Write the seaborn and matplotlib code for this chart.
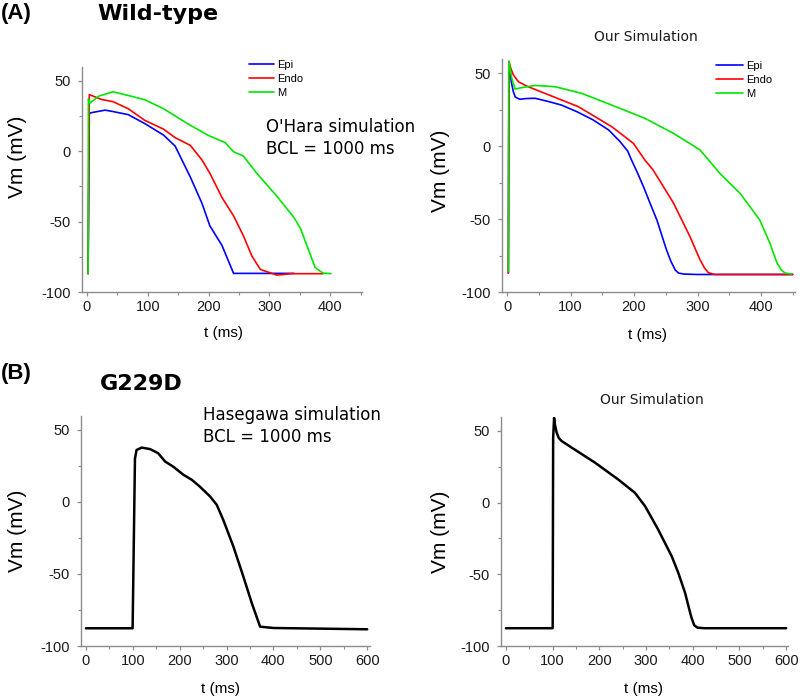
import numpy as np
import pandas as pd
import seaborn as sns
import matplotlib.pyplot as plt
from matplotlib.ticker import MultipleLocator

# ---- data (t in ms, Vm in mV) ----
# (A) Wild-type, O'Hara simulation
ohara_epi_t = [2, 4, 5, 30, 43, 68, 95, 126, 145, 170, 189, 202, 222, 241, 340]
ohara_epi_v = [-87, 26, 27, 29, 28, 25.8, 19.5, 11.3, 3.5, -18.5, -37, -53, -67, -86.8, -86.8]
ohara_endo_t = [2, 3.5, 4, 24, 43, 68, 95, 126, 145, 170, 189, 202, 222, 241, 257, 271, 285, 312, 337, 388]
ohara_endo_v = [-87, 12, 40, 36.6, 35, 30, 21.8, 15.5, 9.5, 4, -6.3, -15.7, -33, -46, -60, -74.4, -84, -88, -87, -87]
ohara_m_t = [2, 2.5, 5, 20, 43, 68, 95, 126, 167, 200, 227, 241, 257, 279, 312, 340, 351, 375, 388, 401]
ohara_m_v = [-87, 37, 34, 39, 42, 39.4, 36.4, 30, 19, 11, 6, -0.5, -3.5, -15.7, -32, -47, -55, -82.6, -86.6, -87]

# (A) Wild-type, our simulation
our_epi_t = [2, 3, 5, 7, 10, 13, 20, 30, 44, 65, 86, 110, 135, 160, 178, 190, 196, 205, 215, 225, 236, 251, 258, 265, 270, 278, 300, 450]
our_epi_v = [-87, 55, 50, 43, 37, 33.5, 32, 32.5, 32.7, 30.5, 28, 23.5, 18, 11, 3, -3.5, -9.6, -18, -28, -39, -50.7, -71, -79, -85, -87, -87.7, -88, -88]
our_endo_t = [2, 3, 6, 10, 18, 31, 60, 112, 165, 199, 217, 230, 262, 288, 304, 311, 317, 327, 450]
our_endo_v = [-87, 58, 53, 48.6, 44, 41, 36, 27, 13.2, 1.8, -9.6, -16.4, -39, -62, -78, -83.5, -86.8, -88, -88]
our_m_t = [2, 2.5, 3, 7, 12.6, 23, 44, 76, 118, 165, 217, 262, 304, 335, 367, 398, 414, 425, 432, 438, 448]
our_m_v = [-86, 50, 58, 47, 39, 40, 41.5, 40.6, 36, 28, 19, 8.7, -2.7, -18.7, -32.4, -50.7, -66.6, -80, -85, -87, -87.7]

# (B) G229D, Hasegawa simulation
hase_t = [0, 99.6, 104.6, 108, 119, 137, 154, 169, 186, 208, 226, 243, 265, 279, 293, 314.6, 336, 354, 371.6, 400, 600]
hase_v = [-87.7, -87.7, 30, 36, 37.7, 36.6, 33.8, 28, 24.5, 18.8, 15.3, 10.6, 3.7, -2, -12.5, -31, -52, -70.4, -86.6, -87.5, -88.4]

# (B) G229D, our simulation
g229d_t = [0, 100, 101, 103, 105, 108.6, 113, 119, 141, 191, 240.6, 276, 298, 326, 355, 369, 383.6, 391, 397, 403, 410, 425, 600]
g229d_v = [-87.6, -87.6, 45, 59, 54, 48.7, 45, 42.9, 38.2, 27.7, 16, 6.8, -2.6, -18.9, -37.5, -49, -63, -72.5, -80, -85.5, -87.2, -87.6, -87.6]

cell_names = ["Epi", "Endo", "M"]
cell_colors = {"Epi": "#0000ff", "Endo": "#ff0000", "M": "#00e600"}

sns.set_style("ticks")
plt.rcParams["font.family"] = ["Liberation Sans", "DejaVu Sans"]
plt.rcParams["axes.unicode_minus"] = False
plt.rcParams["text.color"] = "black"

W, H = 800, 698
fig = plt.figure(figsize=(W / 100, H / 100), dpi=100)


def px_axes(left, top, right, bottom):
    return fig.add_axes([left / W, 1 - bottom / H, (right - left) / W, (bottom - top) / H])


def style_axes(ax, xlim, xmaj, ylab_xy, xlab_xy):
    ax.set_xlim(*xlim)
    ax.set_ylim(-100, 59.6)
    ax.xaxis.set_major_locator(MultipleLocator(xmaj))
    ax.xaxis.set_minor_locator(MultipleLocator(xmaj / 2))
    ax.yaxis.set_major_locator(MultipleLocator(50))
    ax.yaxis.set_minor_locator(MultipleLocator(25))
    for s in ["top", "right"]:
        ax.spines[s].set_visible(False)
    for s in ["left", "bottom"]:
        ax.spines[s].set_color("#8c8c8c")
        ax.spines[s].set_linewidth(1.0)
    ax.tick_params(which="major", direction="out", length=3, width=0.9, color="#8c8c8c",
                   labelsize=10.5, labelcolor="#1a1a1a")
    ax.tick_params(which="minor", direction="out", length=2, width=0.8, color="#8c8c8c")
    ax.tick_params(axis="y", which="major", pad=5)
    ax.tick_params(axis="x", which="major", pad=3)
    ax.set_ylabel("Vm (mV)", fontsize=15, color="black")
    ax.set_xlabel("t (ms)", fontsize=11, color="black")
    ax.yaxis.set_label_coords(*ylab_xy)
    ax.xaxis.set_label_coords(*xlab_xy)
    ax.grid(False)


def draw_three(ax, ts, vs):
    for name, t, v in zip(cell_names, ts, vs):
        df = pd.DataFrame({"t": t, "Vm": v})
        sns.lineplot(data=df, x="t", y="Vm", ax=ax, color=cell_colors[name], label=name,
                     sort=False, estimator=None, linewidth=1.2)


# top-left: O'Hara
ax1 = px_axes(82, 67, 362, 292)
draw_three(ax1, [ohara_epi_t, ohara_endo_t, ohara_m_t], [ohara_epi_v, ohara_endo_v, ohara_m_v])
style_axes(ax1, (-8, 452), 100, (-0.196, 0.6), (0.507, -0.151))
ax1.legend(loc="upper left", bbox_to_anchor=(0.595, 1.03), frameon=False, fontsize=8,
           handlelength=2.3, handletextpad=0.3, labelspacing=0.35, borderpad=0, borderaxespad=0)

# top-right: our simulation
ax2 = px_axes(502, 59, 795, 292)
draw_three(ax2, [our_epi_t, our_endo_t, our_m_t], [our_epi_v, our_endo_v, our_m_v])
style_axes(ax2, (-8, 453.5), 100, (-0.177, 0.52), (0.495, -0.155))
ax2.legend(loc="upper left", bbox_to_anchor=(0.73, 0.99), frameon=False, fontsize=8,
           handlelength=2.4, handletextpad=0.3, labelspacing=0.35, borderpad=0, borderaxespad=0)

# bottom-left: Hasegawa
ax3 = px_axes(81, 416, 370, 646)
sns.lineplot(x=hase_t, y=hase_v, ax=ax3, color="black", sort=False, estimator=None, linewidth=1.8)
style_axes(ax3, (-10.5, 606), 100, (-0.187, 0.5), (0.484, -0.157))

# bottom-right: our simulation
ax4 = px_axes(501, 417, 788, 646)
sns.lineplot(x=g229d_t, y=g229d_v, ax=ax4, color="black", sort=False, estimator=None, linewidth=1.8)
style_axes(ax4, (-10.7, 604), 100, (-0.178, 0.5), (0.495, -0.157))


def ftext(x, y, s, **kw):
    fig.text(x / W, 1 - y / H, s, **kw)


ftext(1, 14, "(A)", fontsize=16, fontweight="bold", va="center", ha="left")
ftext(1, 374, "(B)", fontsize=16, fontweight="bold", va="center", ha="left")
ftext(97, 14, "Wild-type", fontsize=16, fontweight="bold", va="center", ha="left", family="DejaVu Sans")
ftext(100, 384, "G229D", fontsize=16, fontweight="bold", va="center", ha="left", family="DejaVu Sans")
ftext(646, 37, "Our Simulation", fontsize=10, va="center", ha="center", family="DejaVu Sans", color="#1a1a1a")
ftext(652, 400, "Our Simulation", fontsize=10, va="center", ha="center", family="DejaVu Sans", color="#1a1a1a")
ftext(266, 138, "O'Hara simulation\nBCL = 1000 ms", fontsize=12, va="center", ha="left",
      family="DejaVu Sans", linespacing=1.25)
ftext(203, 426, "Hasegawa simulation\nBCL = 1000 ms", fontsize=12, va="center", ha="left",
      family="DejaVu Sans", linespacing=1.25)

fig.savefig("out.png", dpi=100)
